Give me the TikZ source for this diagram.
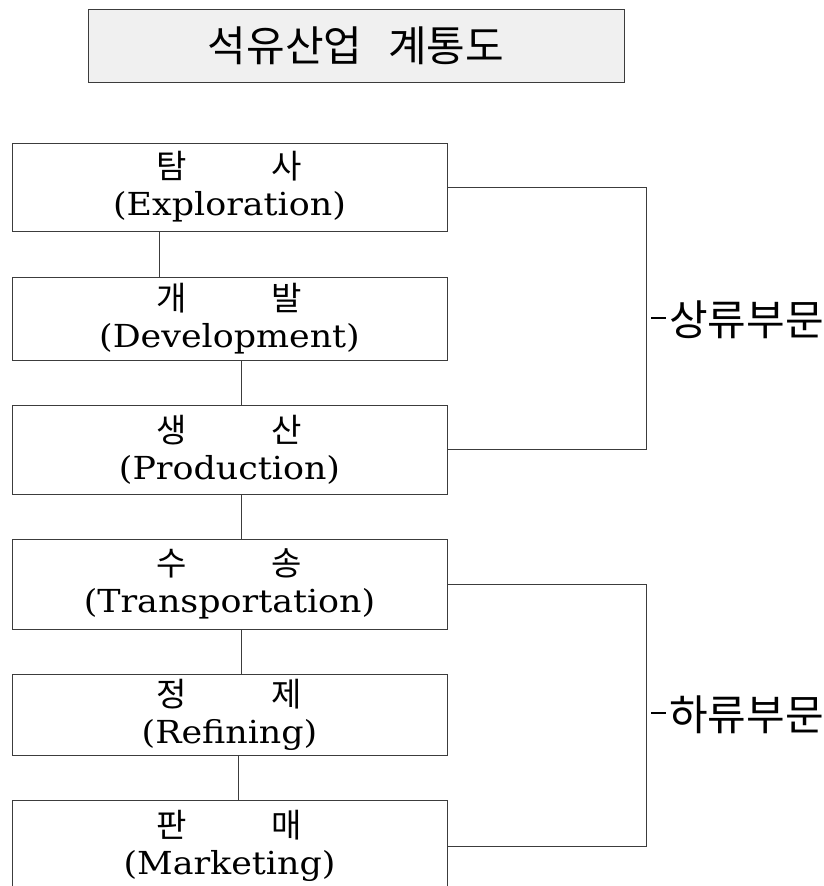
\documentclass[tikz,border=0pt]{standalone}
\usepackage{fontspec}
\newfontfamily\ko{Noto Sans CJK KR}
\newfontfamily\en[Scale=0.96,FakeStretch=1.1]{DejaVu Serif}
\definecolor{titlefill}{RGB}{240,240,240}
\definecolor{linec}{RGB}{60,60,60}
\begin{document}
\begin{tikzpicture}[x=1pt,y=-1pt,
  stagebox/.style={draw=linec,line width=1pt,minimum width=435pt,inner sep=0pt,align=center,
    font=\fontsize{33}{37}\selectfont},
  link/.style={draw=linec,line width=0.9pt},
  sidelabel/.style={anchor=west,inner sep=0pt,font=\ko\fontsize{42}{44}\selectfont}]
\useasboundingbox (0,0) rectangle (824,886);
\clip (0,0) rectangle (824,886);
\node[draw=linec,line width=1pt,fill=titlefill,minimum width=536pt,minimum height=73pt,inner sep=0pt,
  font=\ko\fontsize{42}{44}\selectfont] (title) at (356,45.5) {석유산업\hspace{26pt}계통도};
\node[stagebox,minimum height=88pt] (b1) at (229.5,187) {{\ko 탐\hspace{85pt}사}\\{\en (Exploration)}};
\node[stagebox,minimum height=83pt] (b2) at (229.5,318.5) {{\ko 개\hspace{85pt}발}\\{\en (Development)}};
\node[stagebox,minimum height=89pt] (b3) at (229.5,449.5) {{\ko 생\hspace{85pt}산}\\{\en (Production)}};
\node[stagebox,minimum height=90pt] (b4) at (229.5,584) {{\ko 수\hspace{85pt}송}\\{\en (Transportation)}};
\node[stagebox,minimum height=81pt] (b5) at (229.5,714.5) {{\ko 정\hspace{85pt}제}\\{\en (Refining)}};
\node[stagebox,minimum height=92pt] (b6) at (229.5,846) {{\ko 판\hspace{85pt}매}\\{\en (Marketing)}};
\draw[link] (b1.south -| 159,0) -- (b2.north -| 159,0);
\draw[link] (b2.south -| 241,0) -- (b3.north -| 241,0);
\draw[link] (b3.south -| 241,0) -- (b4.north -| 241,0);
\draw[link] (b4.south -| 241,0) -- (b5.north -| 241,0);
\draw[link] (b5.south -| 238,0) -- (b6.north -| 238,0);
\draw[link] (b1.east) -- (646,0 |- b1.east) -- (646,0 |- b3.east) -- (b3.east);
\draw[link] (b4.east) -- (646,0 |- b4.east) -- (646,0 |- b6.east) -- (b6.east);
\node[sidelabel] (up) at (651,320) {\rule[17pt]{15pt}{1.6pt}\hspace{3pt}상류부문};
\node[sidelabel] (down) at (651,715) {\rule[17pt]{15pt}{1.6pt}\hspace{3pt}하류부문};
\end{tikzpicture}
\end{document}
